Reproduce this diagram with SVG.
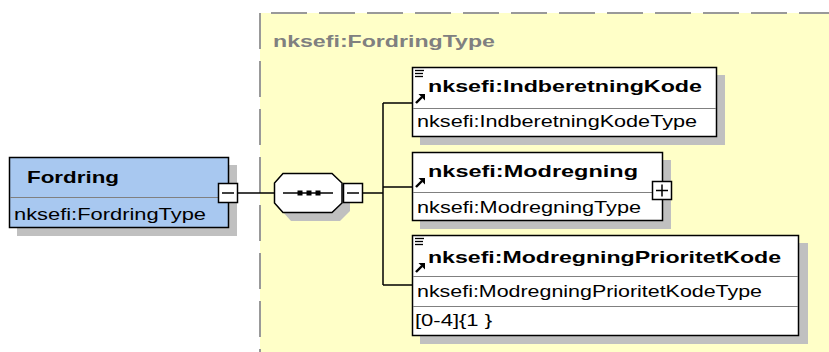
<svg xmlns="http://www.w3.org/2000/svg" xmlns:xlink="http://www.w3.org/1999/xlink" width="829" height="352" viewBox="0 0 829 352">
<style>
.shadow{fill:#c0c0c0;stroke:none}
.box{fill:#ffffff;stroke:#000;stroke-width:1.5}
.div{stroke:#808080;stroke-width:1}
.conn{stroke:#000;stroke-width:1.5;fill:none}
.title{font-family:"Liberation Sans",Arial,sans-serif;font-weight:bold;font-size:17px;fill:#000}
.type{font-family:"Liberation Sans",Arial,sans-serif;font-size:16px;fill:#000}
.btn{fill:#fff;stroke:#000;stroke-width:1.5}
.sign{stroke:#000;stroke-width:1.5}
</style>
<defs>
<g id="arrow">
<line x1="1" y1="9" x2="7" y2="3" stroke="#000" stroke-width="2.4"/>
<polygon points="3.5,0 10,0 10,6.5" fill="#000"/>
</g>
<g id="lines">
<line x1="0" y1="0.5" x2="9" y2="0.5" stroke="#000" stroke-width="1.3"/>
<line x1="0" y1="3.5" x2="8" y2="3.5" stroke="#000" stroke-width="1.3"/>
<line x1="0" y1="6.5" x2="8" y2="6.5" stroke="#000" stroke-width="1.3"/>
</g>
</defs>
<rect width="829" height="352" fill="#ffffff"/>

<g id="complexType">
<rect x="260" y="13" width="569" height="339" fill="#ffffc8"/>
<line x1="260" y1="13" x2="829" y2="13" stroke="#999999" stroke-width="2" stroke-dasharray="36 12" stroke-dashoffset="37"/>
<line x1="260" y1="13" x2="260" y2="352" stroke="#999999" stroke-width="2" stroke-dasharray="36 12"/>
<text x="273" y="47" class="title" style="fill:#808080" textLength="222" lengthAdjust="spacingAndGlyphs">nksefi:FordringType</text>
</g>

<g id="connectors">
<line class="conn" x1="238" y1="193" x2="274" y2="193"/>
<line class="conn" x1="363" y1="193" x2="383" y2="193"/>
<line class="conn" x1="383" y1="103" x2="383" y2="285"/>
<line class="conn" x1="383" y1="103" x2="412" y2="103"/>
<line class="conn" x1="383" y1="187" x2="412" y2="187"/>
<line class="conn" x1="383" y1="285" x2="412" y2="285"/>
</g>

<g id="Fordring">
<rect class="shadow" x="17" y="165" width="220" height="71"/>
<rect x="9.5" y="157.5" width="219" height="70" fill="#a8c8f0" stroke="#000" stroke-width="1.5"/>
<line class="div" x1="10" y1="197.5" x2="228" y2="197.5"/>
<text x="27" y="183" class="title" textLength="92" lengthAdjust="spacingAndGlyphs">Fordring</text>
<text x="14" y="220" class="type" textLength="192" lengthAdjust="spacingAndGlyphs">nksefi:FordringType</text>
<rect class="btn" x="218.5" y="183.5" width="19" height="19"/>
<line class="sign" x1="222" y1="193" x2="234" y2="193"/>
</g>

<g id="sequence">
<polygon class="shadow" points="291,181 340,181 350,191 350,211 340,221 291,221 282,211 282,191"/>
<polygon points="283,173.5 332,173.5 342,183 342,203 332,212.5 283,212.5 274.5,203 274.5,183" fill="#fff" stroke="#000" stroke-width="1.5"/>
<line x1="283" y1="193" x2="333" y2="193" stroke="#000" stroke-width="1.5"/>
<rect x="297.5" y="190.5" width="5" height="5" fill="#000"/>
<rect x="306.5" y="190.5" width="5" height="5" fill="#000"/>
<rect x="315.5" y="190.5" width="5" height="5" fill="#000"/>
<rect class="btn" x="343.5" y="183.5" width="19" height="19"/>
<line class="sign" x1="347" y1="193" x2="359" y2="193"/>
</g>

<g id="IndberetningKode">
<rect class="shadow" x="420" y="75" width="305" height="70"/>
<rect class="box" x="412.5" y="67.5" width="304" height="69"/>
<line class="div" x1="413" y1="108.5" x2="716" y2="108.5"/>
<use xlink:href="#lines" href="#lines" x="415" y="70"/>
<use xlink:href="#arrow" href="#arrow" x="415" y="94"/>
<text x="428" y="92" class="title" textLength="274" lengthAdjust="spacingAndGlyphs">nksefi:IndberetningKode</text>
<text x="417" y="127" class="type" textLength="280" lengthAdjust="spacingAndGlyphs">nksefi:IndberetningKodeType</text>
</g>

<g id="Modregning">
<rect class="shadow" x="420" y="160" width="251" height="69"/>
<rect class="box" x="412.5" y="152.5" width="250" height="68"/>
<line class="div" x1="413" y1="192.5" x2="662" y2="192.5"/>
<use xlink:href="#arrow" href="#arrow" x="415" y="178"/>
<text x="428" y="177" class="title" textLength="210" lengthAdjust="spacingAndGlyphs">nksefi:Modregning</text>
<text x="417" y="213" class="type" textLength="224" lengthAdjust="spacingAndGlyphs">nksefi:ModregningType</text>
<rect class="btn" x="652.5" y="181.5" width="19" height="18"/>
<line class="sign" x1="656" y1="190.5" x2="668" y2="190.5"/>
<line class="sign" x1="662" y1="184.5" x2="662" y2="196.5"/>
</g>

<g id="ModregningPrioritetKode">
<rect class="shadow" x="420" y="243" width="388" height="101"/>
<rect class="box" x="412.5" y="235.5" width="386" height="100"/>
<line class="div" x1="413" y1="276.5" x2="798" y2="276.5"/>
<line class="div" x1="413" y1="306.5" x2="798" y2="306.5"/>
<use xlink:href="#lines" href="#lines" x="415" y="238"/>
<use xlink:href="#arrow" href="#arrow" x="415" y="263"/>
<text x="428" y="263" class="title" textLength="353" lengthAdjust="spacingAndGlyphs">nksefi:ModregningPrioritetKode</text>
<text x="417" y="297" class="type" textLength="345" lengthAdjust="spacingAndGlyphs">nksefi:ModregningPrioritetKodeType</text>
<text x="415" y="326" class="type" textLength="77" lengthAdjust="spacingAndGlyphs">[0-4]{1 }</text>
</g>
</svg>
